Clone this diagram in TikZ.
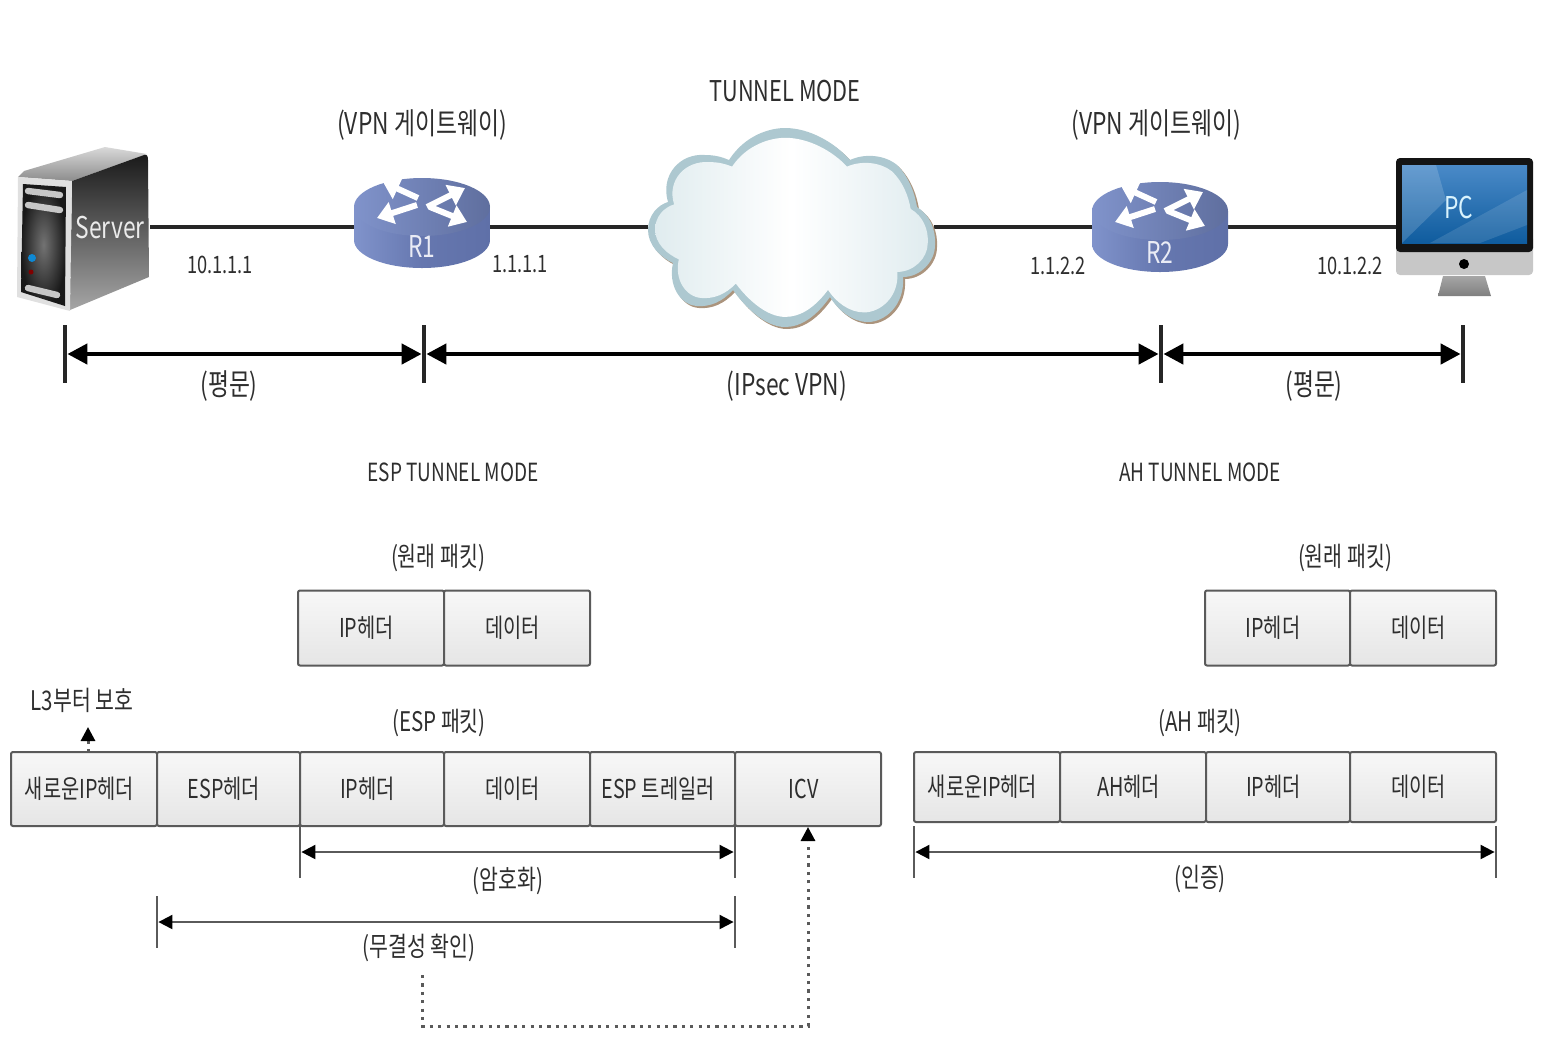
\documentclass[tikz,border=0pt]{standalone}
\usepackage{fontspec}
\usetikzlibrary{arrows.meta}
\setmainfont[FakeStretch=0.76]{Noto Sans CJK KR}

\definecolor{inkgray}{HTML}{2E2E2E}
\definecolor{cellgray}{HTML}{5A5A5A}
\definecolor{rimblue}{HTML}{ADC8D0}
\definecolor{cloudblue}{HTML}{E0ECEF}
\definecolor{routertop}{HTML}{7082BA}
\definecolor{routerside}{HTML}{5F70A8}
\definecolor{routerlight}{HTML}{8093CB}
\definecolor{screentop}{HTML}{4A8AC8}
\definecolor{screenlow}{HTML}{0F5C9E}

\newcommand{\cloudpath}{(648,230)
  .. controls (648,215) and (658,205) .. (668,202)
  .. controls (660,175) and (680,153) .. (705,155)
  .. controls (715,155) and (722,157) .. (729,160)
  .. controls (745,135) and (770,128) .. (785,128)
  .. controls (810,128) and (835,143) .. (850,160)
  .. controls (865,153) and (885,155) .. (897,165)
  .. controls (910,178) and (915,195) .. (917,207)
  .. controls (930,215) and (936,230) .. (935,245)
  .. controls (935,262) and (920,277) .. (903,277)
  .. controls (905,305) and (885,322) .. (868,322)
  .. controls (852,322) and (838,310) .. (830,297)
  .. controls (815,318) and (800,327) .. (785,327)
  .. controls (765,327) and (745,307) .. (733,290)
  .. controls (722,302) and (710,307) .. (697,306)
  .. controls (680,305) and (668,285) .. (673,263)
  .. controls (660,257) and (648,245) .. (648,230) -- cycle}

\tikzset{
  txt/.style={text=inkgray,font=\fontsize{12.5}{14}\selectfont,inner sep=0pt},
  addrtxt/.style={txt,font=\fontsize{12}{14}\selectfont},
  bigtxt/.style={txt,font=\fontsize{14.3}{16}\selectfont},
  lowtxt/.style={txt,font=\fontsize{13.5}{15}\selectfont},
  toptxt/.style={txt,font=\fontsize{15}{17}\selectfont},
  spot/.style={inner sep=0pt,outer sep=0pt,minimum height=5pt},
  packetcell/.style={draw=cellgray,line width=1pt,rounded corners=1pt,top color=white!97!black,bottom color=white!90!black,
    minimum width=#1,text=inkgray,font=\fontsize{13}{14}\selectfont,inner sep=0pt,execute at end node={\kern 4.5pt}},
  packetcell/.default=73pt,
  bigbar/.style={fill=black!85,inner sep=0pt,minimum width=2pt,minimum height=29pt},
  smallbar/.style={fill=cellgray,inner sep=0pt,minimum width=1pt,minimum height=26pt},
  linkline/.style={line width=2pt,black!85},
  bigspan/.style={line width=2.2pt,black,{Triangle[length=10pt,width=10pt]}-{Triangle[length=10pt,width=10pt]}},
  smallspan/.style={line width=1pt,cellgray,{Triangle[length=7pt,width=7pt,color=black]}-{Triangle[length=7pt,width=7pt,color=black]}},
  dotlink/.style={line width=1.5pt,cellgray,dash pattern=on 1.6pt off 2.6pt,-{Triangle[length=7pt,width=7pt,color=black]}},
  routericon/.pic={
    \shade[left color=routerlight,right color=routerside,middle color=routerside!80!routerlight] (-68,-20) -- (-68,13) arc[start angle=180,end angle=0,x radius=68,y radius=28] -- (68,-20) -- cycle;
    \shade[left color=routerlight,right color=routertop!85!black] (0,-20) ellipse[x radius=68,y radius=29];
    \draw[white,line width=3pt,-{Triangle[length=8pt,width=11pt]}] (5,-20) -- (43,-39);
    \draw[white,line width=3pt,-{Triangle[length=8pt,width=11pt]}] (8,-20) -- (45,-5);
    \draw[white,line width=3pt,-{Triangle[length=8pt,width=11pt]}] (-4,-29) -- (-39,-45);
    \draw[white,line width=3pt,-{Triangle[length=8pt,width=11pt]}] (-5,-22) -- (-45,-9);
  }
}

\begin{document}
\begin{tikzpicture}[x=0.5pt,y=-0.5pt]
\useasboundingbox (0,0) rectangle (1568,1040);
%
\node[spot,minimum width=66pt] (server) at (84,227) {};
\node[spot,minimum width=68pt] (R1) at (422,227) {};
\node[spot,minimum width=143pt] (cloud) at (791,227) {};
\node[spot,minimum width=68pt] (R2) at (1160,227) {};
\node[spot,minimum width=68pt] (pc) at (1464,227) {};
\draw[linkline] (server) -- (R1);
\draw[linkline] (R1) -- (cloud);
\draw[linkline] (cloud) -- (R2);
\draw[linkline] (R2) -- (pc);
%
% server
\shade[top color=black!15,bottom color=black!45] (18,177) -- (24,171) -- (105,147) -- (147,154) -- (72,181) -- cycle;
\shade[top color=black!90,bottom color=black!35] (72,181) -- (144,155) .. controls (147,154) and (148,156) .. (148,160) -- (149,277) -- (70,310) -- cycle;
\fill[black!12] (18,177) -- (72,181) -- (70,311) -- (17,297) -- cycle;
\shade[inner color=black!55,outer color=black!90] (23,184) -- (66,187) -- (65,306) -- (21,292) -- cycle;
\draw[black!22,line width=3.2pt,line cap=round] (28,191) -- (60,195);
\draw[black!22,line width=3.2pt,line cap=round] (28,205) -- (60,210);
\draw[black!22,line width=3.2pt,line cap=round] (28,288) -- (57,295);
\fill[cyan!70!blue] (32,258) circle[radius=4];
\fill[red!50!black] (31,272) circle[radius=2.5];
\node[toptxt,text=black!8] (serverlabel) at (110,227) {Server};
%
% routers
\pic at (422,227) {routericon};
\node[toptxt,text=white!85!routertop] (R1label) at (422,246) {R1};
\pic at (1160,231) {routericon};
\node[toptxt,text=white!85!routertop] (R2label) at (1160,252) {R2};
%
% cloud
\fill[brown!60!black!60,shift={(2,2)}] \cloudpath;
\fill[rimblue] \cloudpath;
\shade[left color=cloudblue,right color=cloudblue,middle color=white,shift={(790,226)},xscale=0.95,yscale=0.9,shift={(-790,-226)}] \cloudpath;
%
% monitor
\fill[black!22,rounded corners=2pt] (1396,235) rectangle (1533,275);
\shade[top color=black!35,bottom color=black!50] (1443,276) -- (1485,276) -- (1491,296) -- (1438,296) -- cycle;
\fill[black!92,rounded corners=2pt] (1396,158) rectangle (1533,252);
\shade[top color=screentop,bottom color=screenlow] (1402,165) rectangle (1527,243);
\fill[white,opacity=0.16] (1402,165) -- (1436,165) -- (1446,200) -- (1402,243) -- cycle;
\fill[white,opacity=0.12] (1430,243) -- (1527,190) -- (1527,225) -- (1480,243) -- cycle;
\fill[black] (1464,264) circle[radius=5];
\node[toptxt,text=white!85!cyan] (pclabel) at (1459,207) {PC};
%
\node[bigtxt] (tunnel) at (785,91) {TUNNEL MODE};
\node[toptxt] (gateway1) at (422,125) {(VPN 게이트웨이)};
\node[toptxt] (gateway2) at (1156,125) {(VPN 게이트웨이)};
\node[addrtxt] (addr1) at (220,265) {10.1.1.1};
\node[addrtxt] (addr2) at (520,264) {1.1.1.1};
\node[addrtxt] (addr3) at (1058,266) {1.1.2.2};
\node[addrtxt] (addr4) at (1350,266) {10.1.2.2};
%
\node[bigbar] (barA) at (65,354) {};
\node[bigbar] (barB) at (424,354) {};
\node[bigbar] (barC) at (1161,354) {};
\node[bigbar] (barD) at (1463,354) {};
\draw[bigspan] (barA) -- (barB);
\draw[bigspan] (barB) -- (barC);
\draw[bigspan] (barC) -- (barD);
\node[toptxt] (plain1) at (229,386) {(평문)};
\node[toptxt] (ipsec) at (787,386) {(IPsec VPN)};
\node[toptxt] (plain2) at (1314,386) {(평문)};
%
\node[txt] (esptitle) at (453,472) {ESP TUNNEL MODE};
\node[txt] (ahtitle) at (1200,472) {AH TUNNEL MODE};
%
% original packets
\node[lowtxt] (orig1) at (438,558) {(원래 패킷)};
\node[packetcell,minimum height=37.5pt] (ip1) at (371,628) {IP헤더};
\node[packetcell,minimum height=37.5pt] (data1) at (517,628) {데이터};
\node[lowtxt] (orig2) at (1345,558) {(원래 패킷)};
\node[packetcell=72.5pt,minimum height=37.5pt] (ip2) at (1277.5,628) {IP헤더};
\node[packetcell,minimum height=37.5pt] (data2) at (1423,628) {데이터};
%
% esp packet
\node[lowtxt] (espname) at (439,723) {(ESP 패킷)};
\node[packetcell,minimum height=37pt] (newip) at (84,789) {새로운IP헤더};
\node[packetcell=71.5pt,minimum height=37pt] (esphead) at (228.5,789) {ESP헤더};
\node[packetcell=72pt,minimum height=37pt] (ip3) at (372,789) {IP헤더};
\node[packetcell,minimum height=37pt] (data3) at (517,789) {데이터};
\node[packetcell=72.5pt,minimum height=37pt] (esptrail) at (662.5,789) {ESP 트레일러};
\node[packetcell,minimum height=37pt] (icv) at (808,789) {ICV};
%
\node[lowtxt] (l3label) at (82,700) {L3부터 보호};
\coordinate (l3from) at (88,752);
\coordinate (l3to) at (88,727);
\draw[dotlink] (l3from) -- (l3to);
%
\node[smallbar] (encL) at (300,852) {};
\node[smallbar] (encR) at (735,852) {};
\draw[smallspan] (encL) -- (encR);
\node[lowtxt] (enclabel) at (508,881) {(암호화)};
\node[smallbar] (intL) at (157,922) {};
\node[smallbar] (intR) at (735,922) {};
\draw[smallspan] (intL) -- (intR);
\node[lowtxt] (intlabel) at (419,948) {(무결성 확인)};
\coordinate (checkfrom) at (422,975);
\coordinate (checkcorner) at (808,1026);
\draw[dotlink] (checkfrom) |- (checkcorner) -- (icv);
%
% ah packet
\node[lowtxt] (ahname) at (1200,723) {(AH 패킷)};
\node[packetcell,minimum height=35pt] (newip2) at (987,787) {새로운IP헤더};
\node[packetcell,minimum height=35pt] (ahhead) at (1133,787) {AH헤더};
\node[packetcell=72pt,minimum height=35pt] (ip4) at (1278,787) {IP헤더};
\node[packetcell,minimum height=35pt] (data4) at (1423,787) {데이터};
\node[smallbar] (authL) at (914,852) {};
\node[smallbar] (authR) at (1496,852) {};
\draw[smallspan] (authL) -- (authR);
\node[lowtxt] (authlabel) at (1200,879) {(인증)};
\end{tikzpicture}
\end{document}
